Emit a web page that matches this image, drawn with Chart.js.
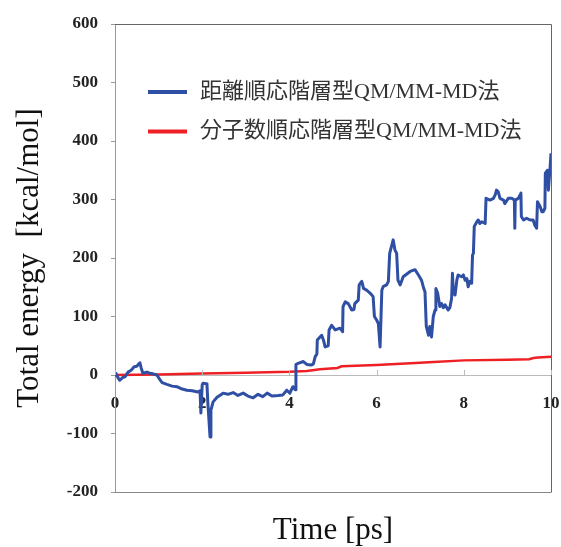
<!DOCTYPE html>
<html lang="ja">
<head>
  <meta charset="UTF-8" />
  <title>Total energy</title>
  <script src="https://cdn.jsdelivr.net/npm/chart.js"></script>
  <style>
    html, body { margin: 0; padding: 0; background: #fff; }
    #chart-container { width: 561px; height: 547px; }
  </style>
</head>
<body>
  <div id="chart-container">
    <canvas id="chart"></canvas>
  </div>

  <script>
    // 距離順応階層型 (blue)
    const distTime = [0.00, 0.02, 0.07, 0.11, 0.18, 0.23, 0.30, 0.37, 0.44, 0.50, 0.57, 0.60, 0.64, 0.73, 0.80, 0.87, 0.96,
      1.03, 1.08, 1.19, 1.31, 1.42, 1.54, 1.65, 1.77, 1.90, 1.95, 1.97, 2.00, 2.02, 2.09, 2.11, 2.13, 2.18, 2.20, 2.25,
      2.34, 2.48, 2.59, 2.71, 2.82, 2.94, 3.05, 3.17, 3.28, 3.39, 3.49, 3.60, 3.74, 3.85, 3.94, 4.01, 4.08, 4.13,
      4.15, 4.15, 4.20, 4.32, 4.40, 4.50, 4.55, 4.59, 4.63, 4.64, 4.74, 4.78, 4.82, 4.89, 4.91, 4.97, 5.05, 5.16, 5.22,
      5.23, 5.28, 5.35, 5.43, 5.48, 5.50, 5.58, 5.60, 5.66, 5.70, 5.77, 5.85, 5.92, 5.95, 6.00, 6.04, 6.08, 6.10, 6.12,
      6.15, 6.23, 6.27, 6.30, 6.38, 6.42, 6.46, 6.49, 6.54, 6.61, 6.77, 6.88, 6.96, 7.03, 7.07, 7.11, 7.14, 7.19, 7.22,
      7.26, 7.30, 7.34, 7.36, 7.40, 7.45, 7.49, 7.53, 7.57, 7.64, 7.68, 7.72, 7.74, 7.76, 7.80, 7.84, 7.87, 7.95, 7.99,
      8.03, 8.07, 8.10, 8.14, 8.18, 8.20, 8.22, 8.24, 8.30, 8.33, 8.37, 8.41, 8.49, 8.51, 8.60, 8.68, 8.72, 8.75, 8.79,
      8.83, 8.91, 8.94, 9.02, 9.10, 9.16, 9.17, 9.18, 9.25, 9.29, 9.31, 9.32, 9.37, 9.44, 9.52, 9.59, 9.63, 9.67, 9.69,
      9.75, 9.79, 9.82, 9.86, 9.87, 9.92, 9.94, 9.98, 10.0];
    const distEnergy = [0, 3, -5, -9, -4, -3, 5, 8, 14, 15, 21, 12, 3, 5, 3, 2, 0,
      -8, -13, -16, -19, -20, -24, -26, -27, -29, -27, -65, -17, -14, -15, -17, -48, -106, -60, -46,
      -38, -31, -33, -30, -35, -31, -36, -39, -33, -37, -31, -36, -35, -34, -26, -31, -20, -25,
      -22, 18, 20, 23, 18, 17, 19, 31, 36, 60, 68, 60, 48, 50, 77, 85, 77, 80, 74,
      117, 125, 122, 111, 112, 122, 128, 154, 160, 148, 145, 140, 134, 100, 94, 88, 48, 48, 145,
      151, 154, 160, 208, 231, 214, 208, 162, 154, 168, 177, 180, 171, 162, 151, 142, 83, 68, 83,
      65, 100, 111, 148, 140, 117, 122, 115, 120, 111, 115, 131, 174, 140, 137, 162, 171, 168, 171,
      162, 165, 151, 160, 157, 205, 208, 254, 262, 265, 259, 262, 259, 302, 299, 302, 308, 316, 313,
      302, 299, 293, 302, 302, 299, 251, 299, 302, 308, 311, 271, 265, 268, 265, 265, 256, 251, 296,
      288, 279, 279, 285, 345, 350, 316, 356, 379];

    // 分子数順応階層型 (red)
    const numTime = [0, 1, 2, 3, 4, 4.4, 4.7, 5.1, 5.2, 6, 7, 7.2, 8, 9, 9.5, 9.6, 9.7, 10];
    const numEnergy = [0, 1, 2.5, 4, 5.5, 7, 10, 12, 15, 17, 21, 22, 25, 26, 27, 29, 30, 31];

    const seriesLabels = ['距離順応階層型QM/MM-MD法', '分子数順応階層型QM/MM-MD法'];
    const xTicks = [0, 2, 4, 6, 8, 10];

    const serif = '"Liberation Serif", "Times New Roman", serif';
    const mixed = '"Liberation Serif", "Noto Sans CJK JP", serif';

    // frame, x tick marks and inside legend
    const decor = {
      id: 'decor',
      afterDraw(chart) {
        const { ctx, chartArea: a, scales } = chart;
        ctx.save();
        ctx.lineWidth = 1;
        ctx.strokeStyle = '#666';
        ctx.beginPath();
        ctx.moveTo(a.left, a.top + 0.5);
        ctx.lineTo(a.right + 0.5, a.top + 0.5);
        ctx.lineTo(a.right + 0.5, a.bottom + 0.5);
        ctx.stroke();
        ctx.strokeStyle = '#888';
        ctx.beginPath();
        ctx.moveTo(a.left, a.bottom + 0.5);
        ctx.lineTo(a.right, a.bottom + 0.5);
        ctx.stroke();

        const y0 = scales.y.getPixelForValue(0);
        ctx.strokeStyle = '#bbb';
        xTicks.forEach(t => {
          const px = Math.round(scales.x.getPixelForValue(t)) + 0.5;
          ctx.beginPath();
          ctx.moveTo(px, y0);
          ctx.lineTo(px, y0 - 5);
          ctx.stroke();
        });

        ctx.font = '22px ' + mixed;
        ctx.textBaseline = 'middle';
        ctx.fillStyle = '#333';
        chart.data.datasets.forEach((ds, i) => {
          const ly = a.top + 68 + i * 39.5;
          ctx.strokeStyle = ds.borderColor;
          ctx.lineWidth = 4;
          ctx.beginPath();
          ctx.moveTo(a.left + 33, ly);
          ctx.lineTo(a.left + 72, ly);
          ctx.stroke();
          ctx.fillText(ds.label, a.left + 85, ly);
        });
        ctx.restore();
      }
    };

    new Chart(document.getElementById('chart'), {
      type: 'line',
      data: {
        datasets: [
          {
            label: seriesLabels[0],
            data: distTime.map((t, i) => ({ x: t, y: distEnergy[i] })),
            borderColor: '#2e4fa3',
            borderWidth: 3,
            pointRadius: 0,
            tension: 0,
            borderJoinStyle: 'round'
          },
          {
            label: seriesLabels[1],
            data: numTime.map((t, i) => ({ x: t, y: numEnergy[i] })),
            borderColor: '#ee2024',
            borderWidth: 2.5,
            pointRadius: 0,
            tension: 0
          }
        ]
      },
      options: {
        responsive: true,
        maintainAspectRatio: false,
        animation: false,
        layout: { padding: { top: 24, right: 10, bottom: 0, left: 0 } },
        plugins: {
          legend: { display: false },
          tooltip: { enabled: false },
          title: {
            display: true,
            position: 'bottom',
            fullSize: false,
            text: 'Time [ps]',
            color: '#111',
            font: { family: serif, size: 31, weight: 'normal', lineHeight: 1 },
            padding: { top: 23.5, bottom: 0.5 }
          }
        },
        scales: {
          x: {
            type: 'linear',
            position: { y: 0 },
            min: 0,
            max: 10,
            afterBuildTicks: s => { s.ticks = xTicks.map(v => ({ value: v })); },
            ticks: {
              color: '#222',
              padding: 0,
              font: { family: serif, size: 17, weight: 'bold' }
            },
            grid: { drawOnChartArea: false, drawTicks: true, tickLength: 18, tickColor: 'rgba(0,0,0,0)' },
            border: { color: '#bbb', width: 1 }
          },
          y: {
            min: -200,
            max: 600,
            afterFit: s => { s.width = 115; },
            ticks: {
              stepSize: 100,
              color: '#222',
              padding: 13,
              font: { family: serif, size: 17, weight: 'bold' }
            },
            grid: { drawOnChartArea: false, tickLength: 4, tickColor: '#999' },
            border: { color: '#999', width: 1 },
            title: {
              display: true,
              text: 'Total energy  [kcal/mol]',
              color: '#111',
              font: { family: serif, size: 31, weight: 'normal' },
              padding: { top: 11, bottom: 0 }
            }
          }
        }
      },
      plugins: [decor]
    });
  </script>
</body>
</html>
